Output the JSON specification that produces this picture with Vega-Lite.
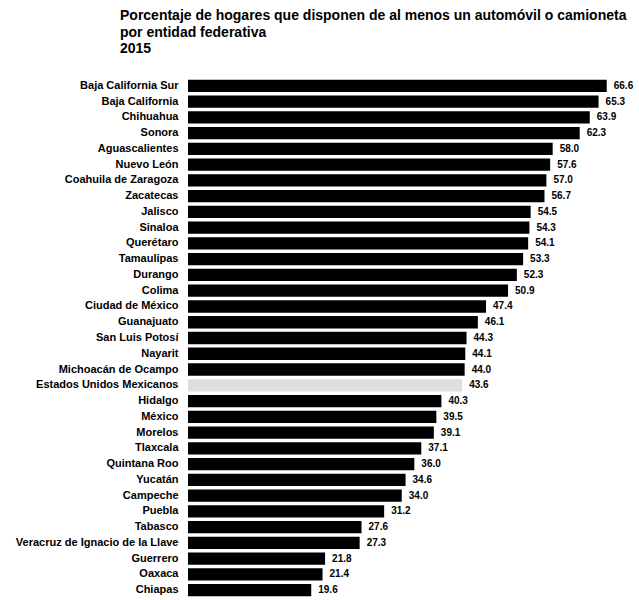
{
  "$schema": "https://vega.github.io/schema/vega-lite/v6.json",
  "autosize": {"type": "none"},
  "width": 420,
  "height": 520,
  "padding": {"left": 188, "top": 78, "right": 31, "bottom": 2},
  "background": "white",
  "title": {
    "text": ["Porcentaje de hogares que disponen de al menos un automóvil o camioneta", "por entidad federativa", "2015"],
    "anchor": "start",
    "frame": "group",
    "dx": -68,
    "offset": 22,
    "font": "Liberation Sans",
    "fontSize": 14,
    "fontWeight": "bold",
    "lineHeight": 16.5,
    "color": "#000"
  },
  "data": {
    "values": [
      {"entidad": "Baja California Sur", "pct": 66.6, "grupo": "entidad"},
      {"entidad": "Baja California", "pct": 65.3, "grupo": "entidad"},
      {"entidad": "Chihuahua", "pct": 63.9, "grupo": "entidad"},
      {"entidad": "Sonora", "pct": 62.3, "grupo": "entidad"},
      {"entidad": "Aguascalientes", "pct": 58.0, "grupo": "entidad"},
      {"entidad": "Nuevo León", "pct": 57.6, "grupo": "entidad"},
      {"entidad": "Coahuila de Zaragoza", "pct": 57.0, "grupo": "entidad"},
      {"entidad": "Zacatecas", "pct": 56.7, "grupo": "entidad"},
      {"entidad": "Jalisco", "pct": 54.5, "grupo": "entidad"},
      {"entidad": "Sinaloa", "pct": 54.3, "grupo": "entidad"},
      {"entidad": "Querétaro", "pct": 54.1, "grupo": "entidad"},
      {"entidad": "Tamaulipas", "pct": 53.3, "grupo": "entidad"},
      {"entidad": "Durango", "pct": 52.3, "grupo": "entidad"},
      {"entidad": "Colima", "pct": 50.9, "grupo": "entidad"},
      {"entidad": "Ciudad de México", "pct": 47.4, "grupo": "entidad"},
      {"entidad": "Guanajuato", "pct": 46.1, "grupo": "entidad"},
      {"entidad": "San Luis Potosí", "pct": 44.3, "grupo": "entidad"},
      {"entidad": "Nayarit", "pct": 44.1, "grupo": "entidad"},
      {"entidad": "Michoacán de Ocampo", "pct": 44.0, "grupo": "entidad"},
      {"entidad": "Estados Unidos Mexicanos", "pct": 43.6, "grupo": "nacional"},
      {"entidad": "Hidalgo", "pct": 40.3, "grupo": "entidad"},
      {"entidad": "México", "pct": 39.5, "grupo": "entidad"},
      {"entidad": "Morelos", "pct": 39.1, "grupo": "entidad"},
      {"entidad": "Tlaxcala", "pct": 37.1, "grupo": "entidad"},
      {"entidad": "Quintana Roo", "pct": 36.0, "grupo": "entidad"},
      {"entidad": "Yucatán", "pct": 34.6, "grupo": "entidad"},
      {"entidad": "Campeche", "pct": 34.0, "grupo": "entidad"},
      {"entidad": "Puebla", "pct": 31.2, "grupo": "entidad"},
      {"entidad": "Tabasco", "pct": 27.6, "grupo": "entidad"},
      {"entidad": "Veracruz de Ignacio de la Llave", "pct": 27.3, "grupo": "entidad"},
      {"entidad": "Guerrero", "pct": 21.8, "grupo": "entidad"},
      {"entidad": "Oaxaca", "pct": 21.4, "grupo": "entidad"},
      {"entidad": "Chiapas", "pct": 19.6, "grupo": "entidad"}
    ]
  },
  "encoding": {
    "y": {
      "field": "entidad",
      "type": "nominal",
      "sort": {"field": "pct", "order": "descending"},
      "scale": {"paddingInner": 0.22, "paddingOuter": 0.11},
      "axis": {
        "title": null,
        "ticks": false,
        "domain": false,
        "labelPadding": 10,
        "labelFont": "Liberation Sans",
        "labelFontSize": 11,
        "labelFontWeight": "bold",
        "labelColor": "#000"
      }
    },
    "x": {
      "field": "pct",
      "type": "quantitative",
      "scale": {"domain": [0, 66.8], "nice": false},
      "axis": null
    }
  },
  "layer": [
    {
      "mark": {"type": "bar"},
      "encoding": {
        "color": {
          "field": "grupo",
          "type": "nominal",
          "scale": {"domain": ["entidad", "nacional"], "range": ["#000000", "#dedede"]},
          "legend": null
        }
      }
    },
    {
      "mark": {"type": "text", "align": "left", "dx": 7, "font": "Liberation Sans", "fontSize": 10, "fontWeight": "bold", "color": "#000"},
      "encoding": {
        "text": {"field": "pct", "type": "quantitative", "format": ".1f"}
      }
    }
  ],
  "config": {"view": {"stroke": null}}
}
